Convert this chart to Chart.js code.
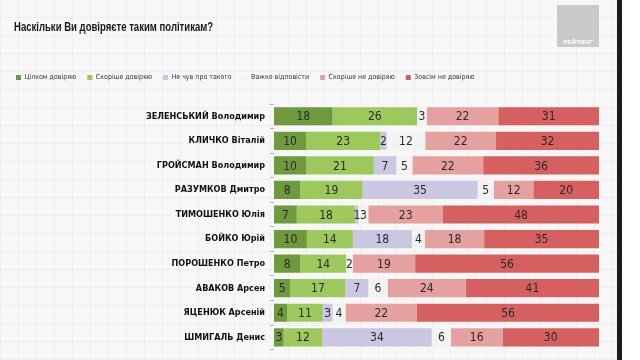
<!DOCTYPE html>
<html>
<head>
<meta charset="utf-8">
<script src="https://cdn.jsdelivr.net/npm/chart.js@4"></script>
<style>
  html, body { margin: 0; padding: 0; width: 640px; height: 360px; overflow: hidden; background: #fff; }
  #wrap {
    position: absolute; left: 0; top: 0; width: 617px; height: 360px;
    background-color: #f7f7f7;
    background-image:
      repeating-linear-gradient(0deg, rgba(0,0,0,0.03) 0 1px, transparent 1px 18px),
      repeating-linear-gradient(90deg, rgba(0,0,0,0.03) 0 1px, transparent 1px 18px);
  }
  #stripe { position: absolute; left: 617px; top: 0; width: 5px; height: 360px; background: #1c1c1c; }
  #logo {
    position: absolute; left: 557px; top: 5px; width: 42px; height: 42px; background: #c9c9c9;
    font: bold 6px 'Liberation Sans', Arial, sans-serif; color: #fff; text-align: center;
    line-height: 8px; box-sizing: border-box; padding-top: 33px; letter-spacing: 0.2px;
  }
  #title {
    position: absolute; left: 14px; top: 19px; white-space: nowrap;
    font: bold 13px 'Liberation Sans', Arial, sans-serif; color: #1a1a1a;
    transform-origin: 0 0;
  }
  canvas { position: absolute; left: 0; top: 0; }
</style>
</head>
<body>
<div id="wrap"><canvas id="chart" width="617" height="360"></canvas></div>
<div id="title">Наскільки Ви довіряєте таким політикам?</div>
<div id="logo">РЕЙТИНГ</div>
<div id="stripe"></div>
<script>
// --- дані ---
const politicians = [
  'ЗЕЛЕНСЬКИЙ Володимир', 'КЛИЧКО Віталій', 'ГРОЙСМАН Володимир', 'РАЗУМКОВ Дмитро',
  'ТИМОШЕНКО Юлія', 'БОЙКО Юрій', 'ПОРОШЕНКО Петро', 'АВАКОВ Арсен',
  'ЯЦЕНЮК Арсеній', 'ШМИГАЛЬ Денис'
];
const fullyTrust    = [18, 10, 10,  8,  7, 10,  8,  5,  4,  3];
const ratherTrust   = [26, 23, 21, 19, 18, 14, 14, 17, 11, 12];
const neverHeard    = [ 0,  2,  7, 35,  1, 18,  0,  7,  3, 34];
const hardToSay     = [ 3, 12,  5,  5,  3,  4,  2,  6,  4,  6];
const ratherDistrust= [22, 22, 22, 12, 23, 18, 19, 24, 22, 16];
const fullyDistrust = [31, 32, 36, 20, 48, 35, 56, 41, 56, 30];

const seriesNames  = ['Цілком довіряю', 'Скоріше довіряю', 'Не чув про такого', 'Важко відповісти', 'Скоріше не довіряю', 'Зовсім не довіряю'];
const seriesValues = [fullyTrust, ratherTrust, neverHeard, hardToSay, ratherDistrust, fullyDistrust];
const seriesColors = ['#6e9a3d', '#9dc95c', '#cbc6e2', '#f3f3f3', '#e5a0a0', '#d5605f'];

const NARROW = "'DejaVu Sans Condensed', 'Liberation Sans', Arial, sans-serif";

// заголовок стискаємо по ширині, як у вузькому шрифті
const titleEl = document.getElementById('title');
titleEl.style.transform = 'scaleX(' + (199 / titleEl.offsetWidth) + ')';

// 100% stacked: кожен рядок нормуємо до 100
const rowSums = politicians.map((_, i) => seriesValues.reduce((s, arr) => s + arr[i], 0));

const datasets = seriesNames.map((name, k) => ({
  label: name,
  data: seriesValues[k].map((v, i) => v * 100 / rowSums[i]),
  raw: seriesValues[k],
  backgroundColor: seriesColors[k],
  borderWidth: 0,
  barPercentage: 0.74,
  categoryPercentage: 1.0
}));

// підписи значень у сегментах
const valueLabels = {
  id: 'valueLabels',
  afterDatasetsDraw(chart) {
    const ctx = chart.ctx;
    ctx.save();
    ctx.font = '12px ' + NARROW;
    ctx.fillStyle = '#2b2b2b';
    ctx.textAlign = 'center';
    ctx.textBaseline = 'middle';
    chart.data.datasets.forEach((ds, k) => {
      chart.getDatasetMeta(k).data.forEach((bar, i) => {
        const v = ds.raw[i];
        if (!v) return;
        ctx.fillText(String(v), (bar.x + bar.base) / 2, bar.y + 1);
      });
    });
    ctx.restore();
  }
};

new Chart(document.getElementById('chart'), {
  type: 'bar',
  data: { labels: politicians, datasets: datasets },
  plugins: [valueLabels],
  options: {
    indexAxis: 'y',
    responsive: false,
    animation: false,
    layout: { padding: { left: 5, right: 18, top: 63, bottom: 0 } },
    plugins: {
      tooltip: { enabled: false },
      title: { display: false },
      legend: {
        position: 'top',
        align: 'start',
        labels: {
          color: '#333',
          font: { family: NARROW, size: 7 },
          boxWidth: 5,
          boxHeight: 5,
          padding: 11,
          generateLabels: (chart) => seriesNames.map((n, k) => ({
            text: n, fillStyle: seriesColors[k], strokeStyle: seriesColors[k],
            lineWidth: 0, datasetIndex: k, fontColor: '#333'
          }))
        }
      }
    },
    scales: {
      x: {
        stacked: true, min: 0, max: 100, position: 'top',
        ticks: { display: false },
        grid: { display: false },
        border: { display: false },
        afterFit: (s) => { s.height = 13; }
      },
      y: {
        stacked: true,
        border: { display: false },
        grid: { drawOnChartArea: false, tickLength: 4, color: '#b5b5b5', offset: true },
        ticks: { color: '#111', padding: 5, font: { family: NARROW, size: 9, weight: 'bold' } },
        afterFit: (s) => { s.width = 269; }
      }
    }
  }
});
</script>
</body>
</html>
